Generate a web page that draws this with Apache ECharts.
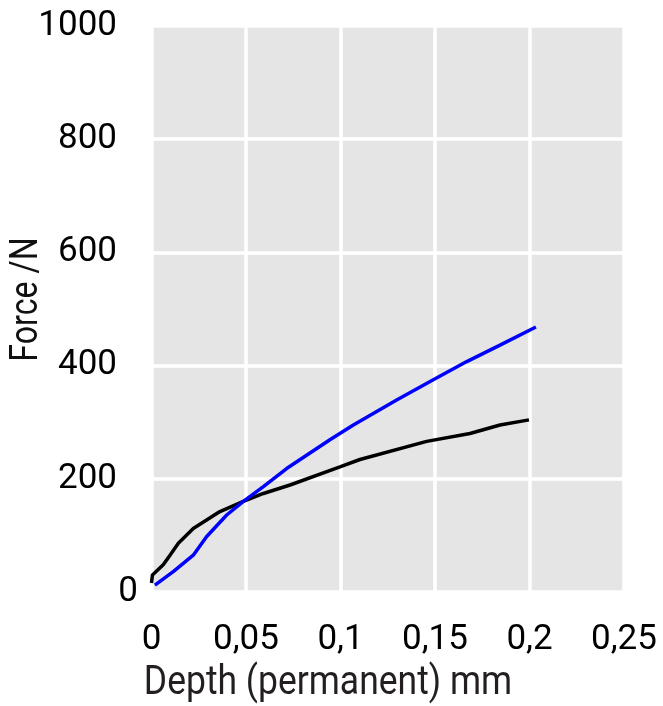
<!DOCTYPE html>
<html>
<head>
<meta charset="utf-8">
<script src="https://cdn.jsdelivr.net/npm/echarts@6/dist/echarts.min.js"></script>
<style>
html,body{margin:0;padding:0;background:#fff;}
#chart{width:663px;height:706px;}
</style>
</head>
<body>
<div id="chart"></div>
<script>
// Data
var blackDepth = [0, 0.0005, 0.0062, 0.0098, 0.0142, 0.0221, 0.0362, 0.0486, 0.0592, 0.0733, 0.0997, 0.1103, 0.1456, 0.1685, 0.1844, 0.1997];
var blackForce = [16, 30, 48, 65, 86, 112, 142, 160, 174, 189, 221, 234, 266, 280, 295, 304];
var blueDepth = [0.0018, 0.0115, 0.0221, 0.0292, 0.0398, 0.0486, 0.0592, 0.0715, 0.0944, 0.1068, 0.1297, 0.1491, 0.1668, 0.1844, 0.2034];
var blueForce = [12, 36, 65, 98, 136, 160, 186, 218, 269, 295, 339, 375, 407, 436, 468];
var xTickValues = [0, 0.05, 0.1, 0.15, 0.2, 0.25];
var xTickLabels = ['0', '0,05', '0,1', '0,15', '0,2', '0,25'];
var yTickValues = [0, 200, 400, 600, 800, 1000];
var yTickLabels = ['0', '200', '400', '600', '800', '1000'];
var xTitle = 'Depth (permanent) mm';
var yTitle = 'Force /N';

function pairs(xs, ys) { return xs.map(function (x, i) { return [x, ys[i]]; }); }
function labelFor(vals, labels, v) {
  for (var i = 0; i < vals.length; i++) { if (Math.abs(vals[i] - v) < 1e-9) return labels[i]; }
  return '';
}

var chart = echarts.init(document.getElementById('chart'), null, {renderer: 'canvas'});
var option = {
  animation: false,
  backgroundColor: '#ffffff',
  grid: {
    left: 151.5, top: 25.8, width: 472.5, height: 566.2,
    show: true, backgroundColor: '#e5e5e5', borderWidth: 0
  },
  xAxis: {
    type: 'value', min: 0, max: 0.25, interval: 0.05,
    axisLine: {show: false}, axisTick: {show: false},
    splitLine: {show: true, lineStyle: {color: '#ffffff', width: 3.5}},
    axisLabel: {
      margin: 31, fontFamily: 'Roboto', fontSize: 35, color: '#000',
      formatter: function (v) { return labelFor(xTickValues, xTickLabels, v); }
    }
  },
  yAxis: {
    type: 'value', min: 0, max: 1000, interval: 200,
    axisLine: {show: false}, axisTick: {show: false},
    splitLine: {show: true, lineStyle: {color: '#ffffff', width: 3.5}},
    axisLabel: {
      margin: 13.5, fontFamily: 'Roboto', fontSize: 35, color: '#000',
      formatter: function (v) {
        var t = labelFor(yTickValues, yTickLabels, v);
        return v === 0 ? '{z|' + t + '}' : '{n|' + t + '}';
      },
      rich: {
        z: {fontFamily: 'Roboto', fontSize: 35, color: '#000'},
        n: {fontFamily: 'Roboto', fontSize: 35, color: '#000', padding: [0, 21, 0, 0]}
      }
    }
  },
  graphic: [
    {
      type: 'text', x: 328, y: 684, scaleX: 0.887,
      style: {text: xTitle, fontFamily: 'Roboto', fontSize: 40, fill: '#231f20', align: 'center', verticalAlign: 'middle'}
    },
    {
      type: 'text', x: 27, y: 299.5, rotation: Math.PI / 2, scaleX: 0.824,
      style: {text: yTitle, fontFamily: 'Roboto', fontSize: 39, fill: '#111', align: 'center', verticalAlign: 'middle'}
    }
  ],
  series: [
    {
      type: 'line', name: 'black', data: pairs(blackDepth, blackForce),
      showSymbol: false, symbol: 'none', smooth: false, clip: false,
      lineStyle: {color: '#000000', width: 3.5}
    },
    {
      type: 'line', name: 'blue', data: pairs(blueDepth, blueForce),
      showSymbol: false, symbol: 'none', smooth: false, clip: false,
      lineStyle: {color: '#0000ff', width: 3.5}
    }
  ]
};
chart.setOption(option);
</script>
</body>
</html>
